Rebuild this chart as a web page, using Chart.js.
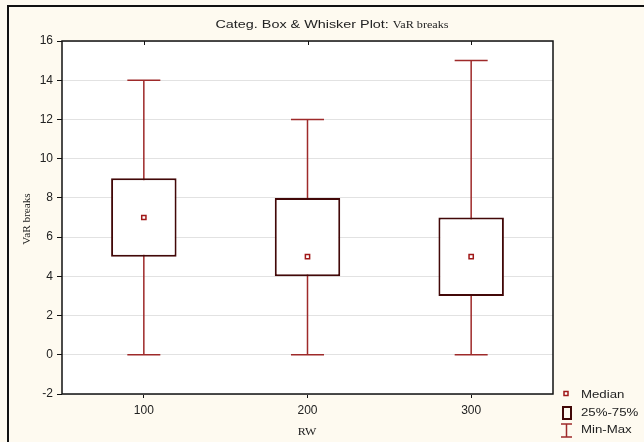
<!DOCTYPE html>
<html>
<head>
<meta charset="utf-8">
<script src="https://cdn.jsdelivr.net/npm/chart.js@4/dist/chart.umd.min.js"></script>
<style>
  html, body { margin: 0; padding: 0; background: #fefaf0; }
  #wrap { width: 644px; height: 442px; }
</style>
</head>
<body>
<div id="wrap"><canvas id="boxChart" width="644" height="442"></canvas></div>
<script>
// Datos
const categories = ['100', '200', '300'];
const mins = [0, 0, 0];
const q1 = [5, 4, 3];
const medians = [7, 5, 5];
const q3 = [9, 8, 7];
const maxs = [14, 12, 15];

const BG = '#fefaf0';
const WHISKER = '#9e2a2a';
const BOX = '#420808';
const MEDIAN = '#a01818';
const SANS = '"Liberation Sans", Arial, sans-serif';
const SERIF = '"Liberation Serif", "Times New Roman", serif';

// texto estirado en horizontal (el original esta algo ensanchado)
function stretchText(ctx, text, x, y, font, sx, align) {
  ctx.save();
  ctx.font = font;
  const w = ctx.measureText(text).width * sx;
  let left = x;
  if (align === 'center') left = x - w / 2;
  ctx.translate(left, y);
  ctx.scale(sx, 1);
  ctx.textAlign = 'left';
  ctx.fillText(text, 0, 0);
  ctx.restore();
  return w;
}

const decor = {
  id: 'decor',
  beforeDraw(chart) {
    const ctx = chart.ctx;
    const a = chart.chartArea;
    ctx.save();
    ctx.fillStyle = BG;
    ctx.fillRect(0, 0, chart.width, chart.height);
    ctx.fillStyle = '#ffffff';
    ctx.fillRect(a.left, a.top, a.right - a.left, a.bottom - a.top);
    ctx.fillStyle = '#111';
    ctx.fillRect(7, 5, chart.width - 7, 2);
    ctx.fillRect(7, 5, 2, chart.height - 5);
    ctx.restore();
  },
  beforeDatasetsDraw(chart) {
    // bigotes min-max
    const ctx = chart.ctx;
    const x = chart.scales.x, y = chart.scales.y;
    ctx.save();
    ctx.strokeStyle = WHISKER;
    ctx.lineWidth = 1.5;
    categories.forEach((c, i) => {
      const px = x.getPixelForValue(i);
      const yMin = y.getPixelForValue(mins[i]);
      const yMax = y.getPixelForValue(maxs[i]);
      ctx.beginPath();
      ctx.moveTo(px, yMin);
      ctx.lineTo(px, yMax);
      ctx.moveTo(px - 16.5, yMin);
      ctx.lineTo(px + 16.5, yMin);
      ctx.moveTo(px - 16.5, yMax);
      ctx.lineTo(px + 16.5, yMax);
      ctx.stroke();
    });
    ctx.restore();
  },
  afterDraw(chart) {
    const ctx = chart.ctx;
    const a = chart.chartArea;
    const x = chart.scales.x;
    ctx.save();
    // borde del area
    ctx.strokeStyle = '#111';
    ctx.lineWidth = 1.5;
    ctx.strokeRect(a.left, a.top, a.right - a.left, a.bottom - a.top);
    ctx.lineWidth = 1;
    categories.forEach((c, i) => {
      const px = Math.round(x.getPixelForValue(i)) + 0.5;
      ctx.beginPath();
      ctx.moveTo(px, a.top);
      ctx.lineTo(px, a.top + 4);
      ctx.stroke();
    });

    // titulo
    ctx.textBaseline = 'middle';
    ctx.fillStyle = '#222';
    const f1 = '11.5px ' + SANS;
    const f2 = '9.5px ' + SERIF;
    const t1 = 'Categ. Box & Whisker Plot: ';
    const t2 = 'VaR breaks';
    ctx.font = f1;
    const w1 = ctx.measureText(t1).width * 1.25;
    ctx.font = f2;
    const w2 = ctx.measureText(t2).width * 1.28;
    const tx = 332 - (w1 + w2) / 2;
    stretchText(ctx, t1, tx, 25, f1, 1.25, 'left');
    stretchText(ctx, t2, tx + w1, 25, f2, 1.28, 'left');

    // titulos de ejes
    stretchText(ctx, 'RW', 307, 432, '10px ' + SERIF, 1.2, 'center');
    ctx.save();
    ctx.translate(27, 219);
    ctx.rotate(-Math.PI / 2);
    stretchText(ctx, 'VaR breaks', 0, 0, '10px ' + SERIF, 1.12, 'center');
    ctx.restore();

    // leyenda
    const fl = '11.5px ' + SANS;
    ctx.fillStyle = '#222';
    stretchText(ctx, 'Median', 581, 395, fl, 1.15, 'left');
    stretchText(ctx, '25%-75%', 581, 413, fl, 1.15, 'left');
    stretchText(ctx, 'Min-Max', 581, 430, fl, 1.15, 'left');
    ctx.lineWidth = 1.5;
    ctx.strokeStyle = MEDIAN;
    ctx.fillStyle = '#fff';
    ctx.fillRect(564, 391.5, 4, 4);
    ctx.strokeRect(564, 391.5, 4, 4);
    ctx.strokeStyle = BOX;
    ctx.lineWidth = 2;
    ctx.strokeRect(563, 407, 8, 12);
    ctx.strokeStyle = WHISKER;
    ctx.lineWidth = 1.5;
    ctx.beginPath();
    ctx.moveTo(566.5, 424); ctx.lineTo(566.5, 437);
    ctx.moveTo(561, 424); ctx.lineTo(572, 424);
    ctx.moveTo(561, 437); ctx.lineTo(572, 437);
    ctx.stroke();
    ctx.restore();
  }
};

new Chart(document.getElementById('boxChart').getContext('2d'), {
  type: 'bar',
  data: {
    labels: categories,
    datasets: [
      {
        type: 'line',
        label: 'Median',
        data: medians,
        showLine: false,
        pointStyle: 'rect',
        pointRadius: 3,
        pointBorderWidth: 1.5,
        pointBorderColor: MEDIAN,
        pointBackgroundColor: '#ffffff',
        order: 0
      },
      {
        label: '25%-75%',
        data: categories.map((c, i) => [q1[i], q3[i]]),
        backgroundColor: '#ffffff',
        borderColor: BOX,
        borderWidth: 2,
        borderSkipped: false,
        barPercentage: 0.4,
        categoryPercentage: 1,
        order: 1
      }
    ]
  },
  options: {
    responsive: false,
    animation: false,
    layout: { padding: { left: 0, top: 41, right: 91, bottom: 0 } },
    plugins: {
      legend: { display: false },
      tooltip: { enabled: false }
    },
    scales: {
      x: {
        afterFit(scale) { scale.height = 48; },
        grid: { drawOnChartArea: false, offset: false, tickLength: 4, tickColor: '#111' },
        border: { display: false },
        ticks: {
          padding: 5,
          color: '#222',
          font: { family: SANS, size: 12 }
        }
      },
      y: {
        min: -2,
        max: 16,
        afterFit(scale) { scale.width = 62; },
        grid: { color: '#e2e2e2', tickColor: '#111', tickLength: 5 },
        border: { display: false },
        ticks: {
          stepSize: 2,
          padding: 4,
          color: '#222',
          font: { family: SANS, size: 12 }
        }
      }
    }
  },
  plugins: [decor]
});
</script>
</body>
</html>
